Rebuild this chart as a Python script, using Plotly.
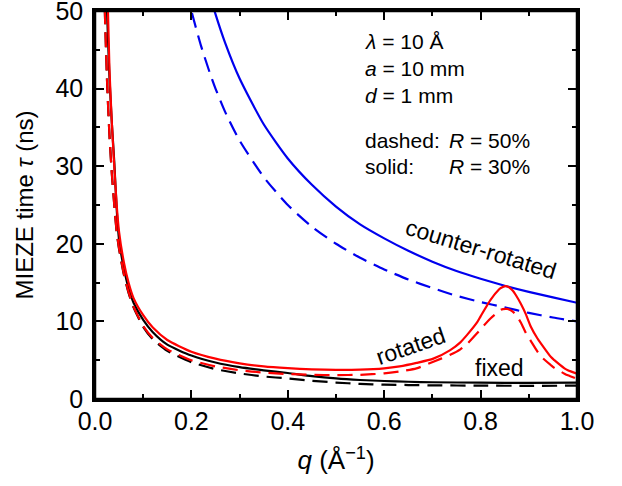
import plotly.graph_objects as go

# ---------------- data ----------------
q_fixed = [0.015, 0.02, 0.025, 0.03, 0.035, 0.04, 0.045, 0.05, 0.06, 0.07, 0.08, 0.1, 0.12, 0.15,
           0.2, 0.25, 0.3, 0.35, 0.4, 0.45, 0.5, 0.55, 0.6, 0.65, 0.7, 0.8, 0.9, 1.0]
tau_fixed_30 = [80, 62, 50, 41.5, 35.5, 30.5, 24.5, 20.5, 16.8, 14.2, 12.4, 10.2, 8.6, 7.0,
                5.6, 4.7, 4.1, 3.7, 3.35, 2.95, 2.65, 2.45, 2.32, 2.22, 2.16, 2.1, 2.08, 2.1]
tau_fixed_50 = [68, 51, 41, 34, 29, 25, 21.5, 19.3, 16.0, 13.6, 11.8, 9.3, 7.7, 6.2,
                4.75, 3.85, 3.3, 2.9, 2.65, 2.35, 2.12, 1.95, 1.85, 1.8, 1.76, 1.72, 1.7, 1.72]

q_rot = [0.015, 0.02, 0.025, 0.03, 0.035, 0.04, 0.045, 0.05, 0.06, 0.07, 0.08, 0.1, 0.12, 0.15,
         0.2, 0.25, 0.3, 0.35, 0.4, 0.45, 0.5, 0.55, 0.6, 0.632, 0.667, 0.702, 0.737, 0.758,
         0.772, 0.793, 0.8, 0.821, 0.838, 0.842, 0.852, 0.856, 0.866, 0.873, 0.884, 0.894,
         0.904, 0.918, 0.925, 0.946, 0.953, 0.974, 0.981, 1.0]
tau_rot_30 = [95, 68, 55, 42.5, 35.5, 30.0, 25.0, 21.5, 17.6, 14.9, 13.0, 10.8, 9.2, 7.6,
              6.1, 5.2, 4.6, 4.2, 3.97, 3.82, 3.75, 3.78, 3.95, 4.2, 4.65, 5.2, 6.3, 7.3,
              8.26, 9.9, 10.65, 12.8, 14.1, 14.3, 14.55, 14.5, 14.0, 13.4, 12.2, 10.9,
              9.35, 7.8, 7.17, 5.4, 5.0, 3.95, 3.7, 3.26]
tau_rot_50 = [68, 51, 41, 34, 29, 25, 21.6, 19.4, 16.1, 13.7, 11.9, 9.4, 7.85, 6.4,
              5.0, 4.2, 3.7, 3.4, 3.22, 3.12, 3.08, 3.12, 3.3, 3.55, 3.95, 4.8, 5.7, 6.4,
              7.1, 8.5, 9.0, 10.4, 11.3, 11.5, 11.62, 11.6, 11.3, 10.9, 9.8, 8.5,
              7.5, 6.1, 5.5, 4.35, 4.0, 3.26, 3.05, 2.6]

q_counter = [0.19, 0.2, 0.22, 0.24, 0.25, 0.27, 0.3, 0.35, 0.4, 0.45, 0.5, 0.55, 0.6, 0.65,
             0.7, 0.75, 0.8, 0.85, 0.9, 0.95, 1.0]
tau_counter_30 = [65, 62, 56.4, 51.7, 49.6, 45.9, 41.3, 35.4, 31.0, 27.6, 24.8, 22.5, 20.7, 19.1,
                  17.7, 16.5, 15.5, 14.6, 13.8, 13.1, 12.4]
tau_counter_50 = [52.6, 50.0, 45.5, 41.7, 40.0, 37.0, 33.3, 28.6, 25.0, 22.2, 20.0, 18.2, 16.7, 15.4,
                  14.3, 13.3, 12.5, 11.8, 11.1, 10.5, 10.0]

x_ticks = [0.0, 0.2, 0.4, 0.6, 0.8, 1.0]
x_ticklabels = ["0.0", "0.2", "0.4", "0.6", "0.8", "1.0"]
y_ticks = [0, 10, 20, 30, 40, 50]
y_ticklabels = ["0", "10", "20", "30", "40", "50"]

FONT = "Liberation Sans, Arial, Helvetica, sans-serif"
DASH = "15px,8px"
LW = 2.2

fig = go.Figure()

def add(x, y, color, dash):
    fig.add_trace(go.Scatter(x=x, y=y, mode="lines",
                             line=dict(color=color, width=LW, dash=dash, shape="spline", smoothing=0.6),
                             showlegend=False, hoverinfo="skip"))

add(q_counter, tau_counter_50, "#0000ee", DASH)
add(q_counter, tau_counter_30, "#0000ee", "solid")
add(q_fixed, tau_fixed_50, "black", DASH)
add(q_fixed, tau_fixed_30, "black", "solid")
add(q_rot, tau_rot_50, "#ff0000", DASH)
add(q_rot, tau_rot_30, "#ff0000", "solid")

axis_common = dict(showline=True, linecolor="black", linewidth=2.5, mirror="allticks",
                   ticks="inside", ticklen=9, tickwidth=1.5, tickcolor="black",
                   showgrid=False, zeroline=False, automargin=False,
                   ticklabeloverflow="allow",
                   tickfont=dict(family=FONT, size=25, color="black"))

fig.update_xaxes(range=[0, 1.0], tickvals=x_ticks, ticktext=x_ticklabels,
                 minor=dict(ticks="inside", ticklen=5, dtick=0.1, tickwidth=1.5, tickcolor="black"),
                 ticklabelstandoff=-2,
                 title=dict(text="<i>q</i> (Å<sup>−1</sup>)", font=dict(family=FONT, size=26, color="black"),
                            standoff=18),
                 **axis_common)
fig.update_yaxes(range=[0, 50], tickvals=y_ticks, ticktext=y_ticklabels,
                 minor=dict(ticks="inside", ticklen=5, dtick=5, tickwidth=1.5, tickcolor="black"),
                 ticklabelstandoff=4,
                 title=dict(text="MIEZE time <i>τ</i> (ns)", font=dict(family=FONT, size=24, color="black"),
                            standoff=16),
                 **axis_common)

# plot frame
fig.add_shape(type="rect", xref="paper", yref="paper", x0=0, x1=1, y0=0, y1=1,
              line=dict(color="black", width=2.5), layer="above")

def txt(x, y, text, xanchor="left", angle=0, size=21, xref="paper", yref="paper"):
    fig.add_annotation(x=x, y=y, xref=xref, yref=yref, text=text, showarrow=False,
                       xanchor=xanchor, yanchor="middle", textangle=angle,
                       font=dict(family=FONT, size=size, color="black"))

# parameter block (paper coords)
px0 = (363 - 95) / 482
def py(ypix):
    return (399 - ypix) / 388
txt(px0, py(41.7), "<i>λ</i> = 10 Å")
txt(px0, py(68), "<i>a</i> = 10 mm")
txt(px0, py(95), "<i>d</i> = 1 mm")
txt(px0, py(140), "dashed:")
txt(px0, py(166), "solid:")
txt((447 - 95) / 482, py(140), "<i>R</i> = 50%")
txt((447 - 95) / 482, py(166), "<i>R</i> = 30%")

# curve labels (data coords)
txt(0.80, 19.3, "counter-rotated", xanchor="center", angle=17, size=23, xref="x", yref="y")
txt(0.655, 6.8, "rotated", xanchor="center", angle=-19, size=23, xref="x", yref="y")
txt(0.84, 4.0, "fixed", xanchor="center", angle=0, size=23, xref="x", yref="y")

fig.update_layout(width=622, height=486,
                  margin=dict(l=95, r=45, t=11, b=87),
                  plot_bgcolor="white", paper_bgcolor="white",
                  font=dict(family=FONT, color="black"))

fig.write_html("out.html", config={"displayModeBar": False},
               post_script="document.body.style.margin='0px';")
